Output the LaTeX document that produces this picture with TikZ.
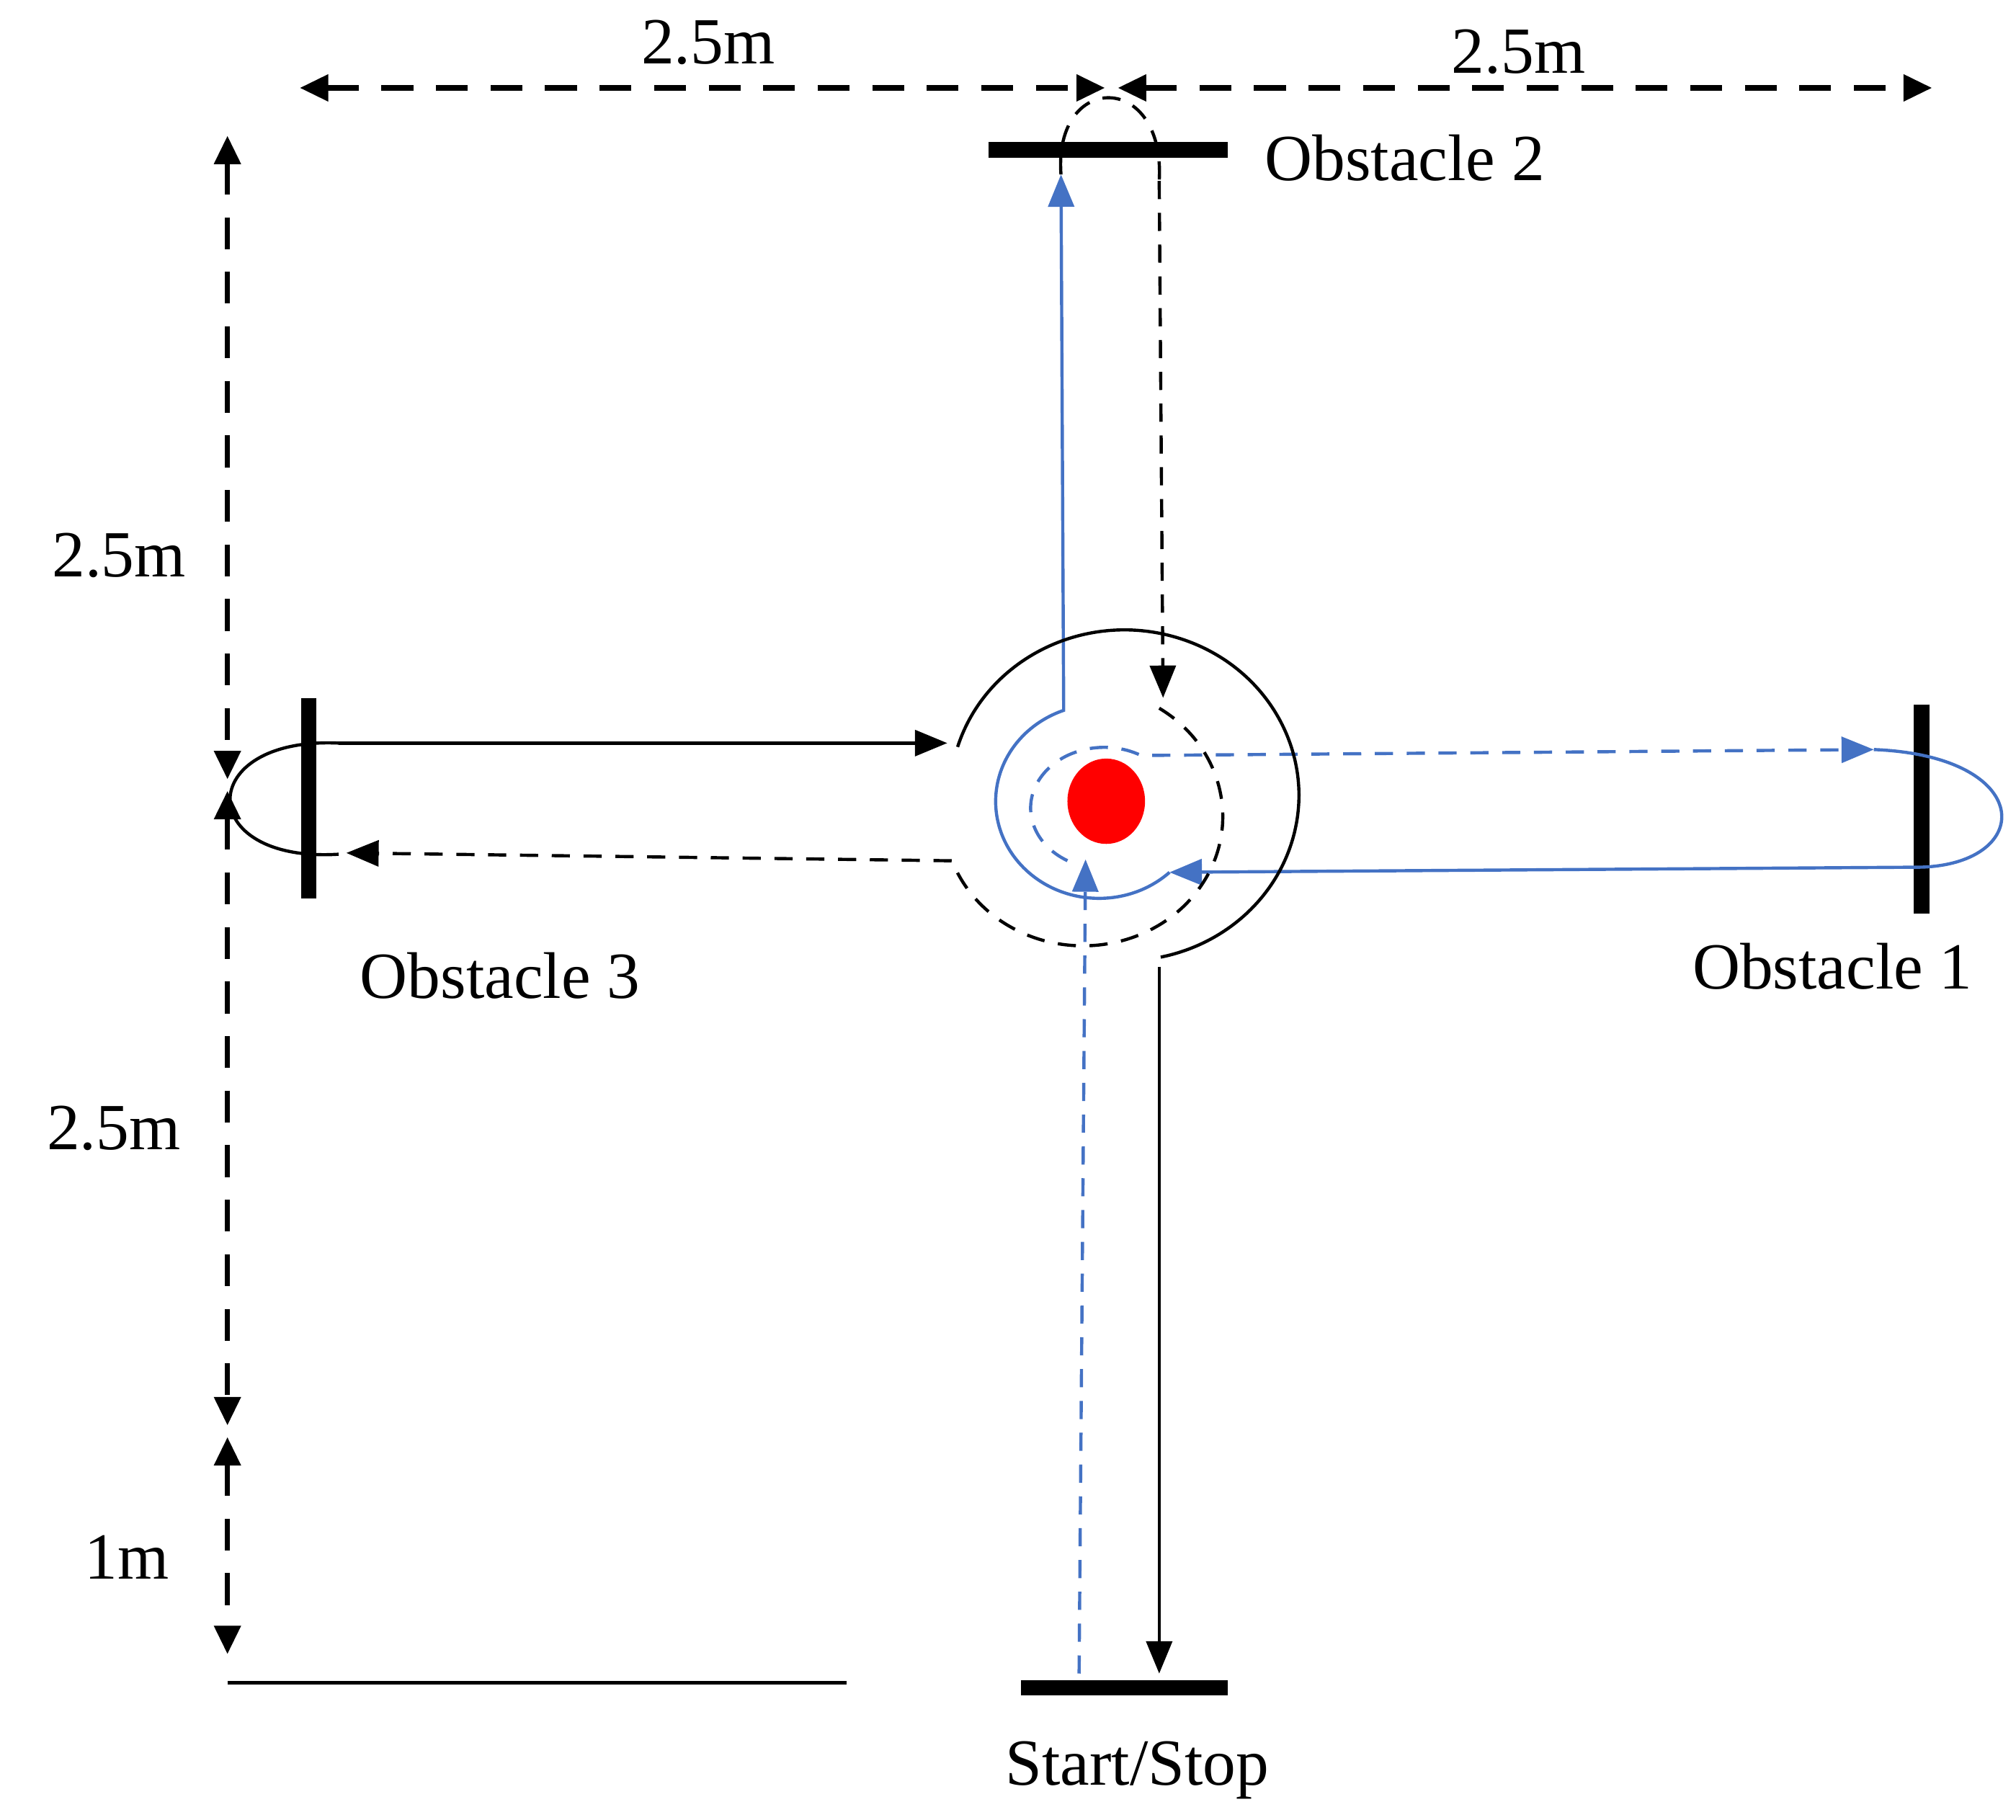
\documentclass[tikz,border=0pt]{standalone}
\usepackage{fontspec}
\setmainfont{Liberation Serif}
\usetikzlibrary{arrows.meta,shapes.geometric}
\definecolor{bl}{HTML}{4472C4}
\begin{document}
\begin{tikzpicture}[x=0.01cm,y=-0.01cm,
  tip/.style={-{Triangle[length=0.25cm,width=0.2cm]}},
  dim/.style={line width=1.2pt,dash pattern=on 7pt off 5pt,{Triangle[length=0.22cm,width=0.2cm]}-{Triangle[length=0.22cm,width=0.2cm]}},
  bar/.style={line width=3.4pt},
  thin/.style={line width=0.7pt},
  dsh/.style={thin,dash pattern=on 4pt off 3pt},
  lab/.style={font=\fontsize{14.5}{16}\selectfont,inner sep=0pt}]
\useasboundingbox (0,0) rectangle (1560,1408);
% dimensions
\coordinate (t1) at (232,68); \coordinate (t2) at (855,68);
\coordinate (t3) at (865,68); \coordinate (t4) at (1495,68);
\draw[dim] (t1) -- (t2);
\draw[dim] (t3) -- (t4);
\node[lab] (d1) at (548,33) {2.5m};
\node[lab] (d2) at (1175,40) {2.5m};
\coordinate (l1) at (176,105); \coordinate (l2) at (176,603);
\coordinate (l3) at (176,612); \coordinate (l4) at (176,1103);
\coordinate (l5) at (176,1112); \coordinate (l6) at (176,1280);
\draw[dim] (l1) -- (l2);
\draw[dim] (l3) -- (l4);
\draw[dim] (l5) -- (l6);
\node[lab] (d3) at (92,430) {2.5m};
\node[lab] (d4) at (88,873) {2.5m};
\node[lab] (d5) at (98,1205) {1m};
\coordinate (b1) at (176,1302); \coordinate (b2) at (655,1302);
\draw[thin] (b1) -- (b2);
% obstacles
\coordinate (o2a) at (765,116); \coordinate (o2b) at (950,116);
\draw[bar] (o2a) -- (o2b);
\node[lab,anchor=west] (o2) at (978,122) {Obstacle 2};
\coordinate (o3a) at (239,540); \coordinate (o3b) at (239,695);
\draw[bar] (o3a) -- (o3b);
\node[lab] (o3) at (387,755) {Obstacle 3};
\coordinate (o1a) at (1487,545); \coordinate (o1b) at (1487,707);
\draw[bar] (o1a) -- (o1b);
\node[lab] (o1) at (1418,748) {Obstacle 1};
\coordinate (sa) at (790,1306); \coordinate (sb) at (950,1306);
\draw[bar] (sa) -- (sb);
\node[lab] (ss) at (880,1370) {Start/Stop};
% red target
\node[ellipse,fill=red,minimum width=0.6cm,minimum height=0.66cm,inner sep=0pt] (r) at (856,620) {};
% blue dashed from start
\coordinate (bs) at (835,1295); \coordinate (be) at (840,665);
\draw[bl,dsh,tip] (bs) -- (be);
% blue dashed inner circle and line to obstacle 1
\coordinate (bi) at (826,666); \coordinate (bo) at (1450,580);
\draw[bl,dsh,tip] (bi) arc[start angle=120,end angle=300,x radius=57,y radius=47] -- (bo);
% loop obstacle 1
\coordinate (o1l) at (1487,671);
\draw[bl,thin] (bo) .. controls (1575,585) and (1575,668) .. (o1l);
\coordinate (bm) at (905,675);
\draw[bl,thin,tip] (o1l) -- (bm);
% blue solid arc then up to obstacle 2
\coordinate (bt) at (821,135);
\draw[bl,thin,tip] (bm) arc[start angle=47,end angle=250,x radius=80,y radius=75] -- (bt);
% black dashed loop over obstacle 2 and down
\coordinate (k1) at (897,140); \coordinate (k2) at (900,540);
\draw[dsh] (bt) .. controls (815,55) and (902,55) .. (k1);
\draw[dsh,tip] (k1) -- (k2);
% black dashed arc to obstacle 3
\coordinate (k3) at (897,548); \coordinate (k4) at (268,660);
\draw[dsh,tip] (k3) arc[start angle=-57,end angle=160,x radius=108,y radius=100] -- (k4);
% loop obstacle 3
\coordinate (k5) at (262,661); \coordinate (k6) at (262,575); \coordinate (k7) at (733,575);
\draw[thin] (k5) .. controls (150,668) and (150,570) .. (k6);
\draw[thin,tip] (k6) -- (k7);
% big black arc and down to start
\coordinate (k8) at (741,578); \coordinate (k9) at (897,748); \coordinate (k10) at (897,1295);
\draw[thin] (k8) arc[start angle=197,end angle=438,x radius=135,y radius=128];
\draw[thin,tip] (k9) -- (k10);
\end{tikzpicture}
\end{document}
